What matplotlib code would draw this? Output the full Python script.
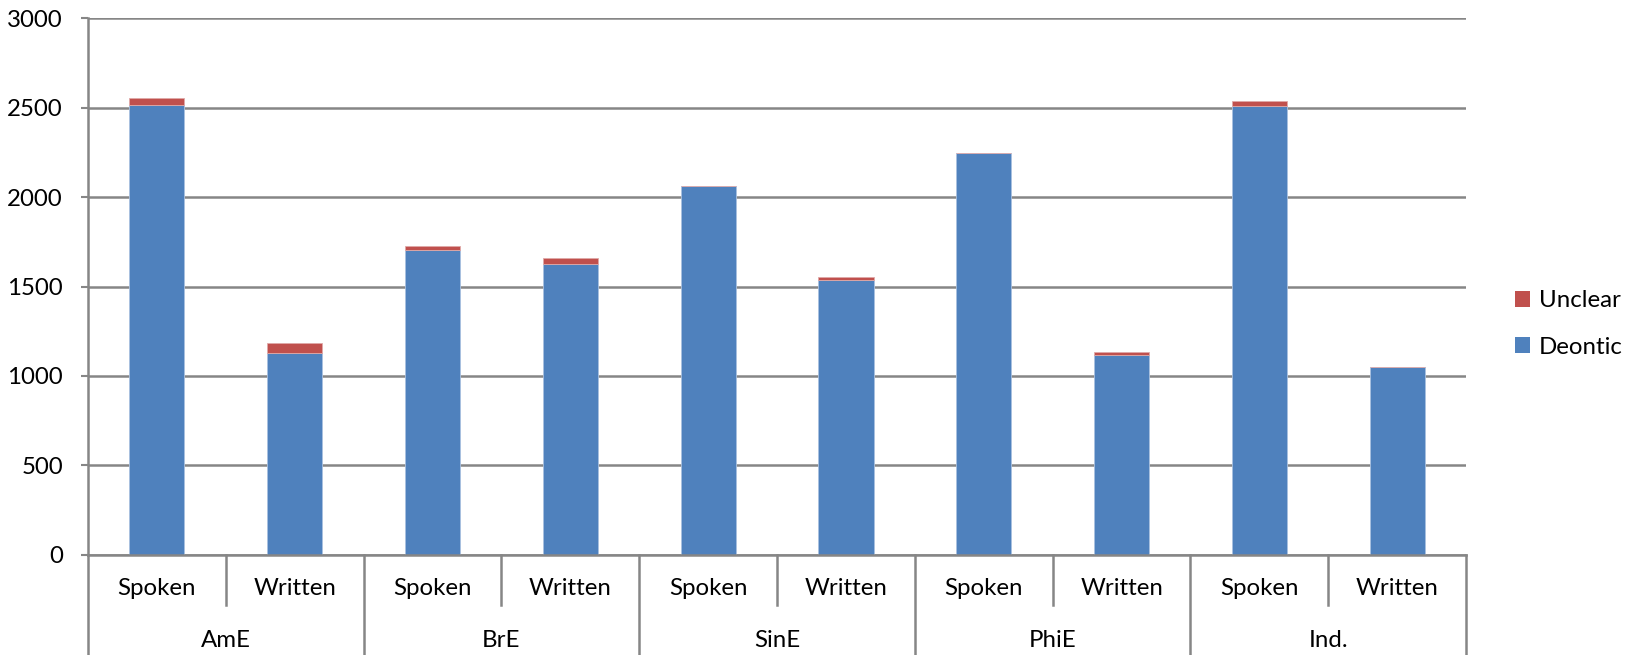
import matplotlib
matplotlib.use('Agg')
import matplotlib.pyplot as plt
from matplotlib.patches import Patch
import numpy as np

plt.rcParams['font.family'] = ['Lato', 'DejaVu Sans']

varieties = ['AmE', 'BrE', 'SinE', 'PhiE', 'Ind.']
modes = ['Spoken', 'Written']
deontic = [2515, 1127, 1705, 1625, 2063, 1537, 2245, 1119, 2510, 1052]
unclear = [37, 55, 22, 33, 0, 18, 0, 17, 26, 0]

blue = '#4F81BD'
red = '#C0504D'
grid_col = '#868686'
fs = 17.3

fig = plt.figure(figsize=(16.29, 6.55), dpi=100)
ax = fig.add_axes([0.054, 0.153, 0.846, 0.819])

x = np.arange(len(deontic)) + 0.5
ax.bar(x, deontic, 0.4, color=blue, edgecolor='#a9c1e0', linewidth=0.6, zorder=3)
ax.bar(x, unclear, 0.4, bottom=deontic, color=red, edgecolor='#e0a9a8', linewidth=0.6, zorder=3)

ax.set_xlim(0, 10)
ax.set_ylim(0, 3000)
ax.set_yticks(np.arange(0, 3001, 500))
ax.yaxis.grid(True, color=grid_col, linewidth=1.8)
ax.set_axisbelow(True)
ax.tick_params(axis='y', length=5, width=1.5, color=grid_col, pad=13, labelsize=fs)
ax.set_xticks([])
for side in ['top', 'right', 'bottom']:
    ax.spines[side].set_visible(False)
ax.spines['left'].set_color(grid_col)
ax.spines['left'].set_linewidth(1.8)

# two-level category axis drawn by hand
tr = ax.get_xaxis_transform()
ax.plot([0, 10], [0, 0], transform=tr, color=grid_col, lw=1.8, clip_on=False, zorder=4)
ax.plot([0, 0], [0, -0.19], transform=tr, color=grid_col, lw=1.8, clip_on=False)
for g in range(len(varieties)):
    ax.plot([2 * g + 2, 2 * g + 2], [0, -0.19], transform=tr, color=grid_col, lw=1.8, clip_on=False)
    ax.plot([2 * g + 1, 2 * g + 1], [0, -0.094], transform=tr, color=grid_col, lw=1.8, clip_on=False)
    for m, mode in enumerate(modes):
        ax.text(2 * g + m + 0.5, -0.062, mode, transform=tr, ha='center', va='center', fontsize=fs)
    ax.text(2 * g + 1, -0.159, varieties[g], transform=tr, ha='center', va='center', fontsize=fs)

handles = [Patch(facecolor=red, label='Unclear'), Patch(facecolor=blue, label='Deontic')]
ax.legend(handles=handles, loc='center left', bbox_to_anchor=(1.02, 0.43), frameon=False,
          fontsize=fs, handlelength=0.62, handleheight=0.62, handletextpad=0.35, labelspacing=1.05)

fig.savefig('out.png', dpi=100)
